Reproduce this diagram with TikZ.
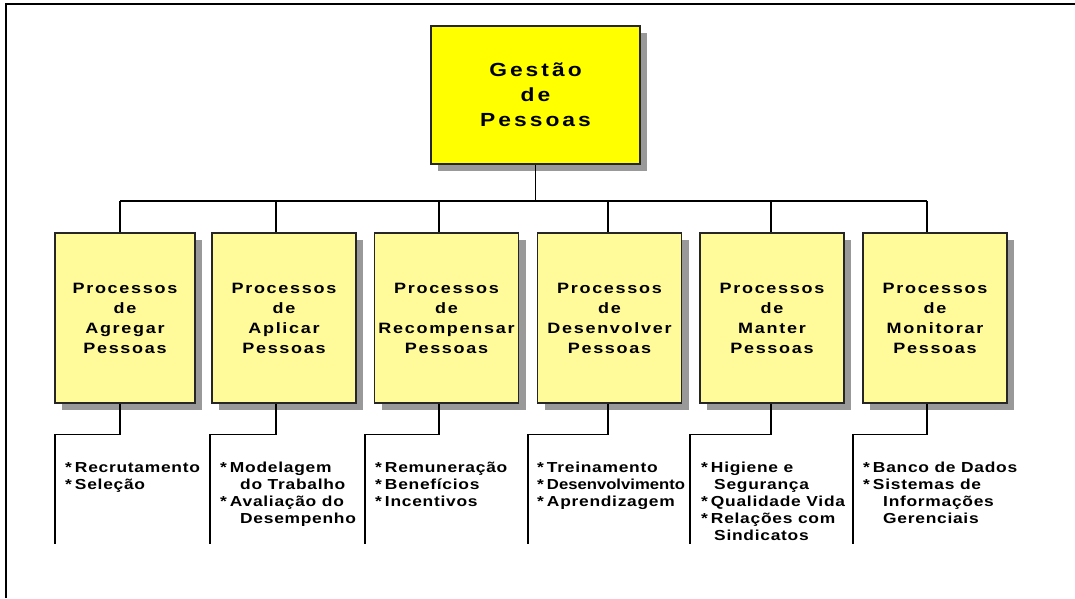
\documentclass[tikz,border=0pt]{standalone}
\usepackage{fontspec}
\setmainfont{Liberation Sans}
\newfontfamily\myGfont{Liberation Sans}[UprightFont={* Bold},FakeStretch=1.2,LetterSpace=16]
\newfontfamily\myPfont{Liberation Sans}[UprightFont={* Bold},FakeStretch=1.2,LetterSpace=11.5]
\newfontfamily\myLfont{Liberation Sans}[UprightFont={* Bold},FakeStretch=1.2,LetterSpace=5]
\newfontfamily\myTfont{Liberation Sans}[UprightFont={* Bold},FakeStretch=1.15,LetterSpace=0]
\usetikzlibrary{shadows}
\definecolor{mainyellow}{RGB}{255,255,0}
\definecolor{paleyellow}{RGB}{255,251,155}
\begin{document}
\begin{tikzpicture}[x=1pt,y=-1pt,
  conn/.style={draw=black,line width=1.3pt},
  shadowed/.style={drop shadow={shadow xshift=7pt,shadow yshift=-7pt,fill=black!40,opacity=1}},
  mainbox/.style={shadowed,draw=black!85,line width=1.4pt,fill=mainyellow,minimum width=209pt,minimum height=138pt,align=center,inner sep=0pt,font=\myGfont\fontsize{19}{25}\selectfont},
  procbox/.style={shadowed,draw=black!85,line width=1.4pt,fill=paleyellow,minimum width=144pt,minimum height=170pt,align=center,inner sep=0pt,font=\myPfont\fontsize{15}{20}\selectfont},
  listtext/.style={anchor=north west,inner sep=0pt,align=left,font=\myLfont\fontsize{14.5}{17}\selectfont}]
\useasboundingbox (0,0) rectangle (1075,598);
\fill[white] (0,0) rectangle (1075,598);
\draw[line width=2.5pt] (6,598) -- (6,4) -- (1075,4);

\node[mainbox] (g) at (535.5,95) {Gestão\\de\\Pessoas};

\node[procbox,minimum width=140pt] (b1) at (125,318) {Processos\\de\\Agregar\\Pessoas};
\node[procbox] (b2) at (284,318) {Processos\\de\\Aplicar\\Pessoas};
\node[procbox] (b3) at (446.5,318) {Processos\\de\\Recompensar\\Pessoas};
\node[procbox] (b4) at (609.5,318) {Processos\\de\\Desenvolver\\Pessoas};
\node[procbox] (b5) at (772,318) {Processos\\de\\Manter\\Pessoas};
\node[procbox] (b6) at (935,318) {Processos\\de\\Monitorar\\Pessoas};

\coordinate (c1) at (120,201);
\coordinate (c2) at (276,201);
\coordinate (c3) at (439,201);
\coordinate (c4) at (608,201);
\coordinate (c5) at (771,201);
\coordinate (c6) at (927,201);

\coordinate (l1) at (55,544);
\coordinate (l2) at (210,544);
\coordinate (l3) at (365,544);
\coordinate (l4) at (528,544);
\coordinate (l5) at (690,544);
\coordinate (l6) at (853,544);

\draw[conn] (g.south) -- (g.south |- c1);
\draw[conn] (c1) -- (c6);
\foreach \i in {1,...,6}{
  \draw[conn] (c\i) -- (c\i |- b\i.north);
  \draw[conn] (b\i.south -| c\i) -- ++(0,31) -| (l\i);
}

\node[listtext] (t1) at (65,462) {*\hspace{3pt}Recrutamento\\*\hspace{3pt}Seleção};
\node[listtext] (t2) at (220,462) {*\hspace{3pt}Modelagem\\\hspace{20pt}do Trabalho\\*\hspace{3pt}Avaliação do\\\hspace{20pt}Desempenho};
\node[listtext] (t3) at (375,462) {*\hspace{3pt}Remuneração\\*\hspace{3pt}Benefícios\\*\hspace{3pt}Incentivos};
\node[listtext] (t4) at (537,462) {*\hspace{3pt}Treinamento\\*\hspace{3pt}{\myTfont Desenvolvimento}\\*\hspace{3pt}Aprendizagem};
\node[listtext] (t5) at (701,462) {*\hspace{3pt}Higiene e\\\hspace{13pt}Segurança\\*\hspace{3pt}Qualidade Vida\\*\hspace{3pt}Relações com\\\hspace{13pt}Sindicatos};
\node[listtext] (t6) at (863,462) {*\hspace{3pt}Banco de Dados\\*\hspace{3pt}Sistemas de\\\hspace{20pt}Informações\\\hspace{20pt}Gerenciais};
\end{tikzpicture}
\end{document}
